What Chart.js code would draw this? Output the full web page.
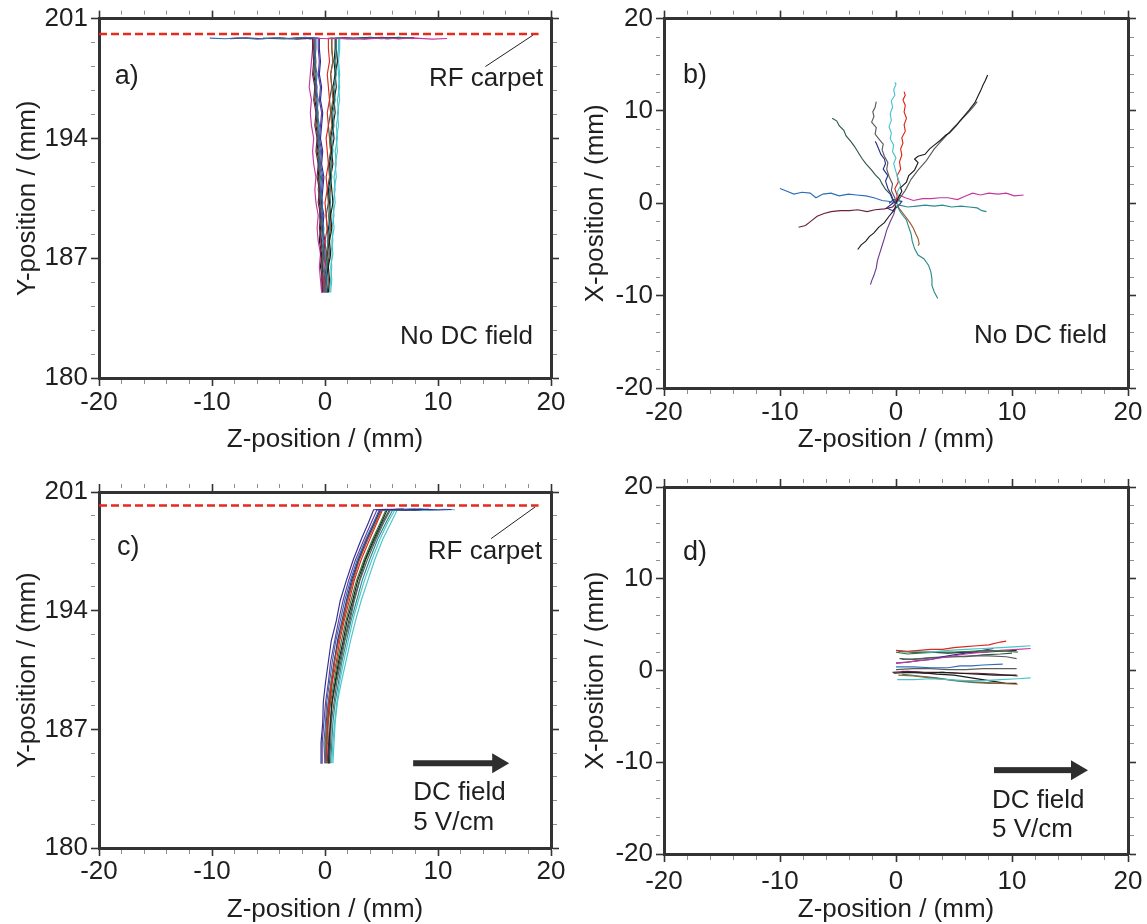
<!DOCTYPE html>
<html>
<head>
<meta charset="utf-8">
<script src="https://cdn.jsdelivr.net/npm/chart.js@4.4.1/dist/chart.umd.min.js"></script>
<style>
  html, body { margin: 0; padding: 0; background: #fff; }
  body { width: 1147px; height: 924px; position: relative; overflow: hidden; }
  .panel { position: absolute; }
  .panel canvas { display: block; }
</style>
</head>
<body>
<div class="panel" style="left:0px;top:0px;width:580px;height:460px"><canvas id="panelA"></canvas></div>
<div class="panel" style="left:570px;top:0px;width:577px;height:460px"><canvas id="panelB"></canvas></div>
<div class="panel" style="left:0px;top:460px;width:580px;height:464px"><canvas id="panelC"></canvas></div>
<div class="panel" style="left:570px;top:460px;width:577px;height:464px"><canvas id="panelD"></canvas></div>
<script>
// ---------------------------------------------------------------------------
// Ion trajectories towards the RF carpet (Y-Z side view and X-Z top view)
// ---------------------------------------------------------------------------

// axis limits and tick labels
const yzRange = [180, 201];
const yzMajor = [180, 187, 194, 201];
const yzMinorStep = 1.4;
const xzRange = [-20, 20];
const xzMajor = [-20, -10, 0, 10, 20];
const xzMinorStep = 2;

// RF carpet height (mm) and its extent along Z, for panels a) and c)
const carpetA = [[-20, 200.1], [18.9, 200.1]];
const carpetC = [[-20, 200.2], [18.9, 200.2]];
const leaderA = [[18.4, 200.03], [14.2, 198.2]];
const leaderC = [[18.6, 200.12], [14.7, 198.25]];

// a) no DC field: Y sampling heights of the vertical drift
const riseLevelsA = [185.0, 185.75, 186.5, 187.25, 188.0, 188.75, 189.5, 190.25, 191.0, 191.75,
  192.5, 193.25, 194.0, 194.75, 195.5, 196.25, 197.0, 197.75, 198.5, 199.25, 199.85];
// Z position (mm) of each ion at those heights
const riseZA = [
  [0.0, 0.1, -0.1, 0.0, -0.2, -0.1, -0.3, -0.2, -0.4, -0.3, -0.5, -0.4, -0.6, -0.5, -0.7, -0.6, -0.8, -0.7, -0.9, -0.8, -0.8],
  [-0.2, -0.3, -0.2, -0.4, -0.3, -0.5, -0.4, -0.6, -0.5, -0.7, -0.6, -0.8, -0.7, -0.9, -0.8, -1.0, -0.9, -1.1, -1.0, -1.1, -1.1],
  [-0.3, -0.4, -0.5, -0.4, -0.6, -0.7, -0.6, -0.8, -0.9, -0.8, -1.0, -1.1, -1.0, -1.2, -1.3, -1.2, -1.4, -1.3, -1.2, -1.1, -1.0],
  [0.1, 0.2, 0.1, 0.3, 0.2, 0.4, 0.3, 0.5, 0.4, 0.6, 0.5, 0.7, 0.6, 0.8, 0.7, 0.9, 0.8, 1.0, 0.9, 1.0, 1.0],
  [0.2, 0.1, 0.3, 0.2, 0.4, 0.3, 0.5, 0.4, 0.3, 0.5, 0.4, 0.6, 0.5, 0.7, 0.6, 0.8, 0.7, 0.9, 0.8, 0.9, 0.9],
  [0.5, 0.6, 0.5, 0.7, 0.6, 0.8, 0.7, 0.9, 0.8, 1.0, 0.9, 1.1, 1.0, 1.2, 1.1, 1.3, 1.2, 1.3, 1.2, 1.3, 1.3],
  [0.0, -0.1, 0.0, 0.1, 0.0, 0.2, 0.1, 0.0, 0.2, 0.1, 0.3, 0.2, 0.1, 0.3, 0.2, 0.4, 0.3, 0.2, 0.4, 0.3, 0.3],
  [-0.1, -0.2, -0.3, -0.2, -0.4, -0.3, -0.5, -0.4, -0.6, -0.5, -0.4, -0.6, -0.5, -0.7, -0.6, -0.8, -0.7, -0.9, -0.8, -0.9, -0.9],
  [0.1, 0.0, 0.1, -0.1, 0.0, -0.2, -0.1, -0.3, -0.2, -0.1, -0.3, -0.2, -0.4, -0.3, -0.2, -0.4, -0.3, -0.5, -0.4, -0.5, -0.5],
  [-0.1, 0.0, -0.2, -0.1, -0.3, -0.2, -0.4, -0.3, -0.5, -0.4, -0.6, -0.5, -0.7, -0.6, -0.8, -0.7, -0.9, -0.8, -1.0, -0.9, -0.9],
  [0.3, 0.4, 0.3, 0.5, 0.4, 0.6, 0.5, 0.7, 0.6, 0.5, 0.7, 0.6, 0.8, 0.7, 0.9, 0.8, 1.0, 0.9, 1.1, 1.0, 1.0],
  [-0.2, -0.1, -0.3, -0.2, -0.1, -0.3, -0.2, -0.4, -0.3, -0.2, -0.4, -0.3, -0.5, -0.4, -0.3, -0.5, -0.4, -0.6, -0.5, -0.6, -0.6],
  [0.4, 0.5, 0.6, 0.5, 0.7, 0.6, 0.8, 0.7, 0.9, 0.8, 1.0, 0.9, 1.1, 1.0, 1.2, 1.1, 1.3, 1.2, 1.1, 1.2, 1.2],
  [0.2, 0.3, 0.2, 0.4, 0.3, 0.5, 0.4, 0.3, 0.5, 0.4, 0.6, 0.5, 0.4, 0.6, 0.5, 0.7, 0.6, 0.5, 0.7, 0.6, 0.6],
  [-0.3, -0.2, -0.4, -0.3, -0.5, -0.4, -0.3, -0.5, -0.4, -0.6, -0.5, -0.7, -0.6, -0.8, -0.7, -0.9, -0.8, -1.0, -0.9, -1.0, -1.0],
  [0.0, 0.1, 0.2, 0.1, 0.3, 0.2, 0.1, 0.3, 0.2, 0.4, 0.3, 0.5, 0.4, 0.3, 0.5, 0.4, 0.6, 0.5, 0.7, 0.6, 0.6]
];
// transport along the carpet surface, [Z, Y]
const carpetPathA = [
  [[-1.8, 199.9], [-3.0, 199.82], [-4.5, 199.88], [-6.0, 199.8], [-7.5, 199.88], [-8.8, 199.82], [-10.2, 199.86]],
  [[-2.5, 199.8], [-4.0, 199.88], [-5.5, 199.82], [-7.0, 199.87], [-8.4, 199.83]],
  [[0.5, 199.82], [2.0, 199.86], [3.5, 199.8], [5.0, 199.87], [6.5, 199.82], [8.0, 199.86], [9.5, 199.8], [10.8, 199.84]],
  [[2.5, 199.8], [4.0, 199.88], [5.5, 199.82], [6.8, 199.87], [7.8, 199.83]],
  [[2.0, 199.87], [3.5, 199.82], [5.0, 199.9], [6.5, 199.83], [7.9, 199.88]],
  [[0.8, 199.88], [0.3, 199.83]],
  [[0.7, 199.87]],
  [[-1.3, 199.82], [-1.7, 199.88]],
  [[-1.2, 199.88], [-1.8, 199.83]],
  [[-2.2, 199.87], [-3.6, 199.81], [-5.5, 199.86]],
  [[2.5, 199.84], [4.0, 199.9], [5.5, 199.82], [7.0, 199.87]],
  [[-1.4, 199.83], [-2.2, 199.88]],
  [[2.4, 199.84], [3.6, 199.88]],
  [[1.3, 199.83], [1.9, 199.87]],
  [[-2.2, 199.88], [-3.3, 199.83]],
  [[2.0, 199.82], [3.5, 199.88], [5.0, 199.83], [6.5, 199.9], [7.9, 199.85]]
];

// b) no DC field: top view on the carpet, [Z, X] in mm
const carpetTracksB = [
  [[0, 0], [0.2, 0.6], [0.5, 1.3], [0.4, 1.7], [0.9, 2.3], [1.1, 3.0], [1.6, 3.6], [1.9, 4.4], [1.6, 4.8], [1.9, 5.1], [2.5, 5.3], [2.9, 5.9], [3.3, 6.3], [3.8, 6.8], [4.3, 7.4], [4.6, 7.6], [5.2, 8.4], [5.5, 8.9], [5.9, 9.5], [6.3, 10.1], [6.8, 10.9], [7.1, 11.7], [7.3, 12.2], [7.5, 12.8], [7.7, 13.3], [7.9, 13.9]],
  [[0.1, 0.2], [0.3, 0.5], [0.8, 1.4], [1.3, 2.6], [1.9, 3.6], [2.6, 4.6], [3.3, 5.9], [4.1, 7.0], [4.9, 8.1], [5.6, 9.0], [6.2, 9.8], [6.7, 10.5], [7.0, 11.0]],
  [[0.1, 0.0], [0.3, 0.5], [0.1, 1.2], [0.4, 1.9], [0.2, 2.6], [0.0, 3.4], [-0.2, 4.3], [0.0, 4.9], [-0.3, 5.6], [-0.2, 6.3], [-0.5, 7.0], [-0.4, 7.6], [-0.6, 8.3], [-0.4, 9.0], [-0.5, 9.7], [-0.3, 10.4], [-0.4, 11.1], [-0.1, 11.7], [-0.2, 12.3], [0.0, 12.9], [-0.1, 13.1]],
  [[0.0, 0.1], [0.1, 0.8], [-0.1, 1.6], [0.2, 2.3], [0.1, 3.0], [0.4, 3.7], [0.3, 4.5], [0.5, 5.2], [0.4, 5.9], [0.6, 6.5], [0.5, 7.1], [0.8, 7.8], [0.7, 8.5], [0.9, 9.2], [0.7, 9.9], [0.8, 10.6], [0.6, 11.2], [0.8, 11.7], [0.7, 12.1]],
  [[0.0, 0.0], [-0.1, 0.6], [-0.4, 1.4], [-0.3, 2.1], [-0.6, 2.9], [-0.8, 3.7], [-0.7, 4.4], [-1.0, 5.1], [-1.2, 5.8], [-1.1, 6.4], [-1.5, 7.0], [-1.8, 7.5], [-1.7, 8.2], [-2.1, 8.8], [-1.9, 9.4], [-2.0, 9.9], [-1.8, 10.4], [-1.7, 11.0]],
  [[0.0, -0.1], [-0.2, 0.2], [-0.4, 0.9], [-0.7, 1.6], [-0.9, 2.4], [-0.7, 3.0], [-1.1, 3.7], [-0.9, 4.3], [-1.0, 4.8], [-1.3, 5.3], [-1.5, 5.9], [-1.7, 6.5], [-1.8, 6.7]],
  [[0.0, 0.0], [-0.3, 0.4], [-0.5, 1.0], [-0.9, 1.5], [-1.2, 2.1], [-1.4, 2.6], [-1.8, 3.1], [-2.1, 3.6], [-2.6, 4.3], [-2.9, 4.8], [-3.2, 5.4], [-3.6, 6.2], [-3.9, 6.7], [-4.3, 7.3], [-4.5, 7.9], [-4.9, 8.4], [-5.1, 8.9], [-5.5, 9.2]],
  [[0.0, 0.0], [-0.5, 0.2], [-1.2, 0.3], [-1.9, 0.6], [-2.6, 0.8], [-3.4, 0.9], [-4.1, 1.0], [-4.9, 0.8], [-5.6, 1.1], [-6.3, 1.0], [-6.9, 0.6], [-7.4, 1.1], [-8.1, 1.2], [-8.8, 1.0], [-9.4, 1.3], [-10.0, 1.6]],
  [[0.0, 0.0], [-0.3, -0.4], [-1.0, -0.6], [-1.8, -0.7], [-2.5, -0.9], [-3.3, -0.7], [-4.0, -0.8], [-4.8, -0.8], [-5.6, -0.9], [-6.2, -1.1], [-6.8, -1.4], [-7.3, -1.9], [-7.8, -2.4], [-8.4, -2.6]],
  [[0.0, 0.2], [0.3, 0.9], [0.8, 0.6], [1.5, 0.3], [2.3, 0.5], [3.0, 0.5], [3.8, 0.6], [4.5, 0.6], [5.3, 0.4], [6.0, 0.8], [6.6, 1.1], [7.3, 0.9], [8.0, 1.1], [8.8, 1.0], [9.5, 1.1], [10.2, 0.8], [11.0, 0.9]],
  [[0.0, 0.0], [0.3, -0.2], [1.0, -0.4], [1.8, -0.3], [2.5, -0.2], [3.3, -0.3], [4.0, -0.2], [4.8, -0.4], [5.6, -0.3], [6.3, -0.4], [7.0, -0.5], [7.4, -0.8], [7.8, -0.9]],
  [[0.0, -0.2], [-0.2, -0.8], [-0.6, -1.4], [-1.0, -2.1], [-1.5, -2.6], [-1.9, -3.2], [-2.3, -3.6], [-2.6, -4.1], [-3.0, -4.5], [-3.3, -5.0]],
  [[0.0, -0.3], [-0.2, -1.2], [-0.5, -2.0], [-0.8, -2.9], [-1.0, -3.8], [-1.2, -4.6], [-1.4, -5.4], [-1.6, -6.2], [-1.7, -7.0], [-1.9, -7.8], [-2.1, -8.4], [-2.2, -8.8]],
  [[0.1, -0.3], [0.4, -1.0], [0.9, -1.8], [1.1, -2.6], [1.3, -3.3], [1.4, -4.1], [1.6, -4.9], [1.9, -5.6], [2.4, -6.0], [2.8, -6.7], [3.0, -7.4], [3.1, -8.2], [3.1, -8.9], [3.3, -9.6], [3.6, -10.3]],
  [[0.1, -0.2], [0.3, -0.6], [0.8, -1.4], [1.2, -2.1], [1.5, -2.7], [1.7, -3.3], [1.9, -3.8], [2.0, -4.4], [1.9, -4.6]],
  [[0.1, 0.3], [-0.4, -0.1], [-0.8, -0.5], [-0.3, -0.8], [0.2, -0.3], [0.5, 0.2], [-0.2, 0.4], [-0.6, 0.0]]
];

// c) DC field 5 V/cm: Y sampling heights of the drift
const riseLevelsC = [185.0, 186.2, 187.4, 188.6, 189.8, 191.0, 192.2, 193.4, 194.6, 195.8, 197.0, 198.2, 199.2, 199.95];
const riseZC = [
  [-0.3, -0.35, -0.2, -0.15, 0.05, 0.3, 0.55, 1.0, 1.35, 1.9, 2.5, 3.2, 3.85, 4.3],
  [0.0, -0.1, 0.05, 0.15, 0.4, 0.65, 0.95, 1.35, 1.75, 2.25, 2.85, 3.6, 4.3, 4.8],
  [0.1, 0.2, 0.25, 0.45, 0.65, 1.0, 1.3, 1.7, 2.15, 2.6, 3.2, 3.95, 4.6, 5.1],
  [0.2, 0.1, 0.3, 0.5, 0.8, 1.1, 1.45, 1.85, 2.3, 2.8, 3.45, 4.2, 4.9, 5.4],
  [0.6, 0.7, 0.85, 1.05, 1.3, 1.65, 2.05, 2.45, 2.95, 3.5, 4.15, 4.85, 5.55, 6.2],
  [0.3, 0.35, 0.5, 0.6, 0.9, 1.2, 1.6, 1.95, 2.45, 2.9, 3.55, 4.3, 5.0, 5.5],
  [-0.2, -0.25, -0.1, 0.05, 0.3, 0.5, 0.85, 1.2, 1.6, 2.1, 2.7, 3.45, 4.1, 4.6],
  [0.5, 0.6, 0.7, 0.9, 1.2, 1.5, 1.9, 2.3, 2.8, 3.3, 3.95, 4.65, 5.4, 6.0],
  [0.4, 0.5, 0.55, 0.8, 1.05, 1.4, 1.75, 2.2, 2.6, 3.1, 3.75, 4.5, 5.2, 5.8],
  [0.1, 0.0, 0.2, 0.3, 0.55, 0.85, 1.2, 1.55, 2.0, 2.5, 3.05, 3.8, 4.5, 5.0],
  [0.2, 0.3, 0.2, 0.4, 0.6, 0.85, 1.1, 1.5, 1.9, 2.35, 2.95, 3.7, 4.4, 4.9],
  [0.7, 0.8, 0.9, 1.1, 1.45, 1.85, 2.25, 2.7, 3.2, 3.8, 4.4, 5.1, 5.85, 6.4],
  [0.0, 0.1, 0.1, 0.3, 0.55, 0.8, 1.15, 1.6, 2.0, 2.45, 3.0, 3.7, 4.35, 4.9],
  [0.3, 0.4, 0.45, 0.65, 0.95, 1.3, 1.7, 2.1, 2.55, 3.05, 3.6, 4.4, 5.1, 5.7]
];
const carpetPathC = [
  [[5.5, 199.98], [7.0, 199.93], [8.5, 199.99], [10.0, 199.94], [11.2, 199.97]],
  [[6.0, 199.94], [7.5, 199.99], [9.5, 199.95]],
  [[6.3, 199.98], [7.5, 199.94]],
  [[6.5, 199.95], [8.0, 199.99]],
  [[7.5, 199.97], [9.0, 199.93], [10.5, 199.98], [11.5, 199.95]],
  [[6.8, 199.98], [8.0, 199.94], [9.2, 199.98]],
  [[5.5, 199.94], [6.5, 199.98]],
  [[7.2, 199.95], [8.5, 199.98]],
  [[6.8, 199.98], [7.5, 199.94]],
  [[6.0, 199.97]],
  [[6.5, 199.98], [8.0, 199.93], [10.0, 199.97]],
  [[7.0, 199.96]],
  [[6.0, 199.95], [7.0, 199.99]],
  [[7.0, 199.96], [8.5, 199.93]]
];

// d) DC field 5 V/cm: top view on the carpet, [Z, X] in mm
const carpetTracksD = [
  [[0.0, 2.2], [1.0, 2.1], [2.0, 2.2], [3.0, 2.3], [4.0, 2.3], [5.0, 2.5], [6.0, 2.6], [7.0, 2.7], [8.0, 2.8], [9.0, 3.1], [9.5, 3.2]],
  [[0.3, 2.0], [1.5, 2.1], [3.0, 2.0], [4.5, 2.2], [6.0, 2.3], [7.5, 2.4], [9.0, 2.5], [10.5, 2.6], [11.6, 2.7]],
  [[0.0, 2.0], [1.0, 1.8], [2.0, 1.9], [3.5, 2.0], [5.0, 2.0], [6.5, 2.1], [8.0, 2.2], [9.5, 2.1], [10.5, 2.0]],
  [[0.0, 0.8], [1.5, 1.0], [3.0, 1.2], [4.5, 1.5], [6.0, 1.8], [7.5, 2.0], [9.0, 2.2], [10.5, 2.3], [11.6, 2.4]],
  [[0.0, 0.8], [1.0, 0.9], [2.0, 1.1], [3.0, 1.2], [4.0, 1.5], [5.0, 1.7], [6.0, 1.9], [7.0, 2.1], [8.4, 2.4]],
  [[0.2, 2.1], [1.5, 2.0], [3.0, 2.0], [4.5, 1.9], [6.0, 2.0], [7.5, 2.0], [9.0, 2.1], [10.4, 2.2]],
  [[0.5, 1.2], [2.0, 1.3], [3.5, 1.4], [5.0, 1.5], [6.5, 1.6], [8.0, 1.6], [9.5, 1.5], [10.4, 1.3]],
  [[0.3, 1.3], [1.5, 1.2], [3.0, 1.4], [4.5, 1.5], [6.0, 1.5], [7.5, 1.7], [9.0, 1.8], [10.0, 1.9]],
  [[0.0, 0.4], [1.5, 0.4], [3.0, 0.3], [4.5, 0.3], [5.5, 0.5], [6.5, 0.5], [7.5, 0.6], [9.2, 0.7]],
  [[0.0, 0.1], [1.5, 0.2], [3.0, 0.2], [4.5, 0.1], [6.0, 0.1], [7.5, 0.2], [9.0, 0.2], [10.4, 0.2]],
  [[-0.2, -0.3], [1.0, -0.2], [2.5, -0.3], [4.0, -0.2], [5.5, -0.3], [7.0, -0.4], [8.5, -0.5], [10.4, -0.5]],
  [[-0.3, -0.2], [1.0, -0.1], [2.5, -0.2], [4.0, -0.2], [5.5, -0.3], [7.0, -0.3], [8.5, -0.4], [10.5, -0.6]],
  [[0.1, -1.0], [1.5, -1.0], [3.0, -0.9], [4.5, -1.0], [6.0, -1.1], [7.5, -1.1], [9.0, -1.0], [10.5, -0.9], [11.6, -0.8]],
  [[0.2, -0.5], [1.5, -0.6], [3.0, -0.8], [4.5, -1.0], [6.0, -1.2], [7.5, -1.3], [9.0, -1.4], [10.5, -1.5]],
  [[0.5, -0.4], [2.0, -0.6], [3.5, -0.8], [5.0, -1.1], [6.5, -1.3], [8.0, -1.4], [9.5, -1.4]],
  [[0.5, -0.1], [2.0, -0.2], [3.5, -0.4], [5.0, -0.5], [6.5, -0.8], [8.0, -1.1], [9.5, -1.4], [10.4, -1.4]]
];

// ---------------------------------------------------------------------------
// styling
// ---------------------------------------------------------------------------
const INK = '#333333';
const TEXT = '#1f1f1f';
const CARPET_RED = '#e52a1f';
const traceColors = {
  black: '#1c1c1c', gray: '#5c5c5c', blue: '#2f6dba', navy: '#2c2f92', red: '#e0261c',
  green: '#2f7a3a', dkgreen: '#2c5a46', cyan: '#48c4cc', teal: '#2a8c8c', magenta: '#c2389e',
  maroon: '#6b2040', purple: '#6d3c92', brown: '#9c5a28'
};
const colorsA = ['blue', 'maroon', 'magenta', 'teal', 'black', 'cyan', 'red', 'gray', 'navy',
  'green', 'black', 'purple', 'cyan', 'brown', 'black', 'dkgreen'];
const colorsB = ['black', 'gray', 'cyan', 'red', 'gray', 'navy', 'dkgreen', 'blue', 'maroon',
  'magenta', 'teal', 'black', 'purple', 'teal', 'brown', 'navy'];
const colorsC = ['navy', 'blue', 'red', 'green', 'cyan', 'black', 'purple', 'teal', 'gray',
  'brown', 'navy', 'cyan', 'maroon', 'dkgreen'];
const colorsD = ['red', 'cyan', 'green', 'magenta', 'navy', 'black', 'gray', 'dkgreen', 'blue',
  'gray', 'black', 'maroon', 'cyan', 'brown', 'teal', 'black'];

Chart.defaults.font.family = "'Liberation Sans', Arial, Helvetica, sans-serif";
Chart.defaults.color = TEXT;
Chart.defaults.animation = false;

const isNear = (list, v) => list.some(m => Math.abs(m - v) < 1e-6);
function tickGrid(range, step) {
  const out = [];
  const n = Math.round((range[1] - range[0]) / step);
  for (let i = 0; i <= n; i++) out.push(+(range[0] + i * step).toFixed(4));
  return out;
}

function axis(o) {
  const horizontal = o.pos === 'top' || o.pos === 'bottom';
  const major = c => c.tick && isNear(o.majors, c.tick.value);
  return {
    type: 'linear', position: o.pos, min: o.range[0], max: o.range[1],
    afterBuildTicks: s => { s.ticks = tickGrid(o.range, o.step).map(v => ({ value: v })); },
    afterFit: s => { if (horizontal) s.height = o.size; else s.width = o.size; },
    border: { display: true, color: INK, width: 3 },
    grid: {
      drawOnChartArea: false, drawTicks: true, tickLength: 8,
      tickColor: c => major(c) ? INK : '#8e8e8e',
      tickWidth: c => major(c) ? 1.6 : 1,
      tickBorderDash: c => major(c) ? [] : [4, 60]
    },
    ticks: {
      autoSkip: false, maxRotation: 0, minRotation: 0, padding: o.tickPad ?? 3,
      font: { size: 26 }, color: TEXT,
      callback: v => (o.labels && isNear(o.majors, v)) ? String(Math.round(v)) : ''
    },
    title: o.title
      ? { display: true, text: o.title, color: TEXT, font: { size: 26, lineHeight: 1 }, padding: o.titlePad }
      : { display: false }
  };
}

function trace(points, color, width) {
  return {
    data: points, borderColor: color, backgroundColor: color, borderWidth: width ?? 1.15,
    showLine: true, pointRadius: 0, pointHoverRadius: 0, fill: false, tension: 0
  };
}

function riseTracks(levels, zs, tails, colorNames) {
  return zs.map((zList, i) => {
    const pts = zList.map((z, k) => [z, levels[k]]).concat(tails[i]);
    return trace(pts, traceColors[colorNames[i]]);
  });
}
function flatTracks(tracks, colorNames) {
  return tracks.map((t, i) => trace(t, traceColors[colorNames[i]]));
}

// annotations drawn in data coordinates through the chart scales
const notes = {
  panelA: [
    { kind: 'text', text: 'a)', at: [-18.6, 197.2], size: 27 },
    { kind: 'text', text: 'RF carpet', at: [9.2, 197.05] },
    { kind: 'text', text: 'No DC field', at: [6.64, 182.0] }
  ],
  panelB: [
    { kind: 'text', text: 'b)', at: [-18.36, 13.0], size: 27 },
    { kind: 'text', text: 'No DC field', at: [6.72, -15.18] }
  ],
  panelC: [
    { kind: 'text', text: 'c)', at: [-18.4, 197.27], size: 27 },
    { kind: 'text', text: 'RF carpet', at: [9.1, 197.05] },
    { kind: 'arrow', from: [7.8, 185.0], to: [16.3, 185.0] },
    { kind: 'text', text: 'DC field', at: [7.8, 182.83] },
    { kind: 'text', text: '5 V/cm', at: [7.8, 181.07] }
  ],
  panelD: [
    { kind: 'text', text: 'd)', at: [-18.36, 12.09], size: 27 },
    { kind: 'arrow', from: [8.45, -10.86], to: [16.55, -10.86] },
    { kind: 'text', text: 'DC field', at: [8.28, -15.03] },
    { kind: 'text', text: '5 V/cm', at: [8.28, -18.13] }
  ]
};

const notesPlugin = {
  id: 'panelNotes',
  afterDatasetsDraw(chart) {
    const items = notes[chart.canvas.id] || [];
    const { ctx } = chart;
    const sx = chart.scales.x, sy = chart.scales.y;
    items.forEach(it => {
      ctx.save();
      if (it.kind === 'text') {
        ctx.font = `${it.size || 26}px 'Liberation Sans', Arial, sans-serif`;
        ctx.fillStyle = TEXT;
        ctx.textAlign = 'left';
        ctx.textBaseline = 'alphabetic';
        ctx.fillText(it.text, sx.getPixelForValue(it.at[0]), sy.getPixelForValue(it.at[1]));
      } else if (it.kind === 'arrow') {
        const x1 = sx.getPixelForValue(it.from[0]);
        const x2 = sx.getPixelForValue(it.to[0]);
        const y = sy.getPixelForValue(it.from[1]);
        ctx.fillStyle = '#2e2e2e';
        ctx.fillRect(x1, y - 3, x2 - 15 - x1, 6);
        ctx.beginPath();
        ctx.moveTo(x2 - 17, y - 10);
        ctx.lineTo(x2, y);
        ctx.lineTo(x2 - 17, y + 10);
        ctx.closePath();
        ctx.fill();
      }
      ctx.restore();
    });
  }
};

function panel(id, cfg) {
  const carpetSets = [];
  if (cfg.carpet) {
    carpetSets.push(Object.assign(trace(cfg.carpet, CARPET_RED, 2.6), { borderDash: [8, 4] }));
    carpetSets.push(trace(cfg.leader, '#222222', 1));
  }
  new Chart(document.getElementById(id), {
    type: 'scatter',
    data: { datasets: carpetSets.concat(cfg.tracks) },
    options: {
      responsive: true, maintainAspectRatio: false, devicePixelRatio: 1,
      events: [], layout: { padding: 0 },
      plugins: { legend: { display: false }, tooltip: { enabled: false } },
      scales: {
        x: axis({ pos: 'bottom', range: xzRange, majors: xzMajor, step: xzMinorStep, size: cfg.xH,
          labels: true, tickPad: cfg.xTickPad, title: 'Z-position / (mm)', titlePad: { top: 0, bottom: cfg.xTitlePad } }),
        y: axis({ pos: 'left', range: cfg.yRange, majors: cfg.yMajor, step: cfg.yStep, size: cfg.yW,
          labels: true, tickPad: 3, title: cfg.yTitle, titlePad: { top: cfg.yTitlePad, bottom: 0 } }),
        x2: axis({ pos: 'top', range: xzRange, majors: xzMajor, step: xzMinorStep, size: cfg.topH, labels: false }),
        y2: axis({ pos: 'right', range: cfg.yRange, majors: cfg.yMajor, step: cfg.yStep, size: cfg.rightW, labels: false })
      }
    },
    plugins: [notesPlugin]
  });
}

panel('panelA', {
  yRange: yzRange, yMajor: yzMajor, yStep: yzMinorStep, yTitle: 'Y-position / (mm)',
  yW: 99, topH: 17, rightW: 29, xH: 82, xTickPad: 1.4, xTitlePad: 7, yTitlePad: 15,
  carpet: carpetA, leader: leaderA,
  tracks: riseTracks(riseLevelsA, riseZA, carpetPathA, colorsA)
});
panel('panelB', {
  yRange: xzRange, yMajor: xzMajor, yStep: xzMinorStep, yTitle: 'X-position / (mm)',
  yW: 94, topH: 17, rightW: 19, xH: 72, xTickPad: 1, xTitlePad: 7, yTitlePad: 13,
  tracks: flatTracks(carpetTracksB, colorsB)
});
panel('panelC', {
  yRange: yzRange, yMajor: yzMajor, yStep: yzMinorStep, yTitle: 'Y-position / (mm)',
  yW: 99, topH: 32, rightW: 29, xH: 76, xTickPad: 0.4, xTitlePad: 1, yTitlePad: 15,
  carpet: carpetC, leader: leaderC,
  tracks: riseTracks(riseLevelsC, riseZC, carpetPathC, colorsC)
});
panel('panelD', {
  yRange: xzRange, yMajor: xzMajor, yStep: xzMinorStep, yTitle: 'X-position / (mm)',
  yW: 94, topH: 27, rightW: 19, xH: 70, xTickPad: 4.4, xTitlePad: 1, yTitlePad: 13,
  tracks: flatTracks(carpetTracksD, colorsD)
});
</script>
</body>
</html>
